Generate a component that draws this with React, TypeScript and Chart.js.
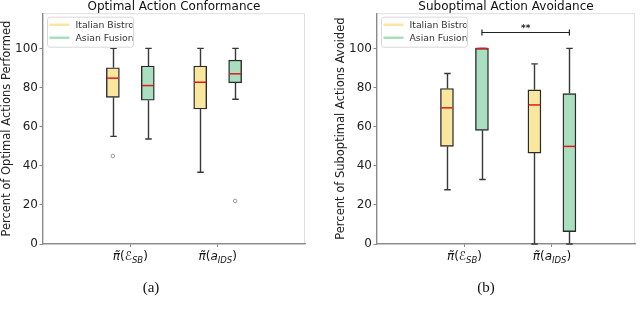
import React, { useEffect, useRef } from 'react';
import { Chart, registerables } from 'chart.js';

Chart.register(...registerables);

const FONT = "'DejaVu Sans', sans-serif";

// ---- shared data ----
const seriesNames = ['Italian Bistro', 'Asian Fusion'];
const seriesColors = ['#F9E79F', '#A9DFBF'];
const categoryPositions = [1, 2];
const tickSymbols = ['ℰ', 'a'];
const tickSubscripts = ['SB', 'IDS'];
const yTickValues = [0, 20, 40, 60, 80, 100];

// ---- panel (a): Optimal Action Conformance ----
const aItalianLow = [55, 36.7];
const aItalianQ1 = [75, 69];
const aItalianMedian = [84.8, 82.7];
const aItalianQ3 = [90.1, 91];
const aItalianHigh = [100, 100];
const aItalianOutliers = [[45], []];
const aAsianLow = [53.7, 74];
const aAsianQ1 = [73.5, 82.4];
const aAsianMedian = [81, 87];
const aAsianQ3 = [91, 94];
const aAsianHigh = [100, 100];
const aAsianOutliers = [[], [22]];

// ---- panel (b): Suboptimal Action Avoidance ----
const bItalianLow = [27.7, 0];
const bItalianQ1 = [49.9, 46.5];
const bItalianMedian = [69.6, 71.1];
const bItalianQ3 = [79.5, 78.8];
const bItalianHigh = [87.2, 92.1];
const bItalianOutliers = [[], []];
const bAsianLow = [33, 0];
const bAsianQ1 = [58.1, 6.3];
const bAsianMedian = [100, 49.9];
const bAsianQ3 = [100, 76.9];
const bAsianHigh = [100, 100];
const bAsianOutliers = [[], []];
const bSignificanceLevel = [108.4];
const bSignificanceLabel = ['**'];

const seriesOffset = [-0.2, 0.2];
const BOX_W = 13;

type Stats = { low: number[]; q1: number[]; med: number[]; q3: number[]; high: number[]; out: number[][] };

type PanelProps = {
  left: number;
  title: string;
  yLabel: string;
  series: Stats[];
  xMax: number;
  padLeft: number;
  padRight: number;
  sig?: { level: number; label: string; from: number; to: number; series: number };
};

function drawTickLabel(ctx: CanvasRenderingContext2D, cx: number, baseline: number, sym: string, sub: string) {
  const parts = [
    { t: 'π\u0303', f: `italic 12px ${FONT}`, dy: 0 },
    { t: '(', f: `12px ${FONT}`, dy: 0 },
    { t: sym, f: `italic 12px ${FONT}`, dy: 0 },
    { t: sub, f: `italic 8.5px ${FONT}`, dy: 2.5 },
    { t: ')', f: `12px ${FONT}`, dy: 0 },
  ];
  let total = 0;
  const widths = parts.map((p) => {
    ctx.font = p.f;
    const w = ctx.measureText(p.t).width;
    total += w;
    return w;
  });
  let x = cx - total / 2;
  ctx.fillStyle = '#111';
  ctx.textAlign = 'left';
  ctx.textBaseline = 'alphabetic';
  parts.forEach((p, i) => {
    ctx.font = p.f;
    ctx.fillText(p.t, x, baseline + p.dy);
    x += widths[i];
  });
}

function Panel({ left, title, yLabel, series, xMax, padLeft, padRight, sig }: PanelProps) {
  const ref = useRef<HTMLCanvasElement>(null);

  useEffect(() => {
    const canvas = ref.current!;
    const datasets: any[] = [];
    series.forEach((s, si) => {
      datasets.push({
        type: 'bar',
        label: seriesNames[si],
        data: categoryPositions.map((c, ci) => ({ x: c + seriesOffset[si], y: [s.q1[ci], s.q3[ci]] })),
        backgroundColor: seriesColors[si],
        borderColor: '#2a2a2a',
        borderWidth: 1.4,
        borderSkipped: false,
        barThickness: BOX_W,
        grouped: false,
      });
    });
    series.forEach((s, si) => {
      const pts: any[] = [];
      s.out.forEach((list, ci) => list.forEach((v) => pts.push({ x: categoryPositions[ci] + seriesOffset[si], y: v })));
      if (pts.length) {
        datasets.push({
          type: 'scatter',
          data: pts,
          pointRadius: 1.8,
          pointBackgroundColor: 'rgba(0,0,0,0)',
          pointBorderColor: '#808080',
          pointBorderWidth: 0.8,
        });
      }
    });

    const extras = {
      id: 'extras',
      beforeDraw(chart: any) {
        const { ctx, chartArea: a } = chart;
        ctx.save();
        ctx.strokeStyle = '#dedede';
        ctx.lineWidth = 1;
        ctx.strokeRect(a.left, a.top + 0.5, a.right - a.left - 0.5, a.bottom - a.top);
        ctx.restore();
      },
      afterDatasetsDraw(chart: any) {
        const { ctx, chartArea: a } = chart;
        const xs = chart.scales.x;
        const ys = chart.scales.y;
        ctx.save();
        // whiskers and caps
        series.forEach((s, si) => {
          categoryPositions.forEach((c, ci) => {
            const x = Math.round(xs.getPixelForValue(c + seriesOffset[si])) + 0.5;
            const yLow = ys.getPixelForValue(s.low[ci]);
            const yQ1 = ys.getPixelForValue(s.q1[ci]);
            const yQ3 = ys.getPixelForValue(s.q3[ci]);
            const yHigh = ys.getPixelForValue(s.high[ci]);
            ctx.strokeStyle = '#383838';
            ctx.lineWidth = 1.4;
            ctx.beginPath();
            ctx.moveTo(x, yQ3);
            ctx.lineTo(x, yHigh);
            ctx.moveTo(x, yQ1);
            ctx.lineTo(x, yLow);
            ctx.moveTo(x - BOX_W / 4, yHigh);
            ctx.lineTo(x + BOX_W / 4, yHigh);
            ctx.moveTo(x - BOX_W / 4, yLow);
            ctx.lineTo(x + BOX_W / 4, yLow);
            ctx.stroke();
          });
        });
        // medians
        series.forEach((s, si) => {
          categoryPositions.forEach((c, ci) => {
            const x = xs.getPixelForValue(c + seriesOffset[si]);
            const y = ys.getPixelForValue(s.med[ci]);
            ctx.strokeStyle = '#e3191c';
            ctx.lineWidth = 1.5;
            ctx.beginPath();
            ctx.moveTo(x - BOX_W / 2 + 0.7, y);
            ctx.lineTo(x + BOX_W / 2 - 0.7, y);
            ctx.stroke();
          });
        });
        // significance bracket
        if (sig) {
          const x1 = xs.getPixelForValue(categoryPositions[sig.from] + seriesOffset[sig.series]);
          const x2 = xs.getPixelForValue(categoryPositions[sig.to] + seriesOffset[sig.series]);
          const y = Math.round(ys.getPixelForValue(sig.level)) + 0.5;
          ctx.strokeStyle = '#222';
          ctx.lineWidth = 1.2;
          ctx.beginPath();
          ctx.moveTo(x1, y);
          ctx.lineTo(x2, y);
          ctx.moveTo(x1, y - 3);
          ctx.lineTo(x1, y + 3);
          ctx.moveTo(x2, y - 3);
          ctx.lineTo(x2, y + 3);
          ctx.stroke();
          ctx.fillStyle = '#222';
          ctx.font = `bold 9px ${FONT}`;
          ctx.textAlign = 'center';
          ctx.textBaseline = 'alphabetic';
          ctx.fillText(sig.label, (x1 + x2) / 2, y - 1.5);
        }
        // legend
        const fx = a.left + 4.5;
        const fy = a.top + 4;
        const fw = 86;
        const fh = 30;
        ctx.beginPath();
        ctx.roundRect(fx, fy, fw, fh, 2.5);
        ctx.fillStyle = 'rgba(255,255,255,0.85)';
        ctx.fill();
        ctx.strokeStyle = '#d8d8d8';
        ctx.lineWidth = 1;
        ctx.stroke();
        ctx.save();
        ctx.beginPath();
        ctx.rect(fx, fy, fw - 1, fh);
        ctx.clip();
        seriesNames.forEach((name, i) => {
          const ly = fy + 7.5 + i * 13;
          ctx.strokeStyle = seriesColors[i];
          ctx.lineWidth = 2.5;
          ctx.beginPath();
          ctx.moveTo(fx + 2, ly);
          ctx.lineTo(fx + 22, ly);
          ctx.stroke();
          ctx.fillStyle = '#333';
          ctx.font = `9.3px ${FONT}`;
          ctx.textAlign = 'left';
          ctx.textBaseline = 'middle';
          ctx.fillText(name, fx + 28, ly + 0.5);
        });
        ctx.restore();
        // x tick labels
        categoryPositions.forEach((c, ci) => {
          drawTickLabel(ctx, xs.getPixelForValue(c), a.bottom + 16, tickSymbols[ci], tickSubscripts[ci]);
        });
        ctx.restore();
      },
    };

    const chart = new Chart(canvas, {
      type: 'bar',
      data: { datasets },
      plugins: [extras],
      options: {
        responsive: false,
        animation: false,
        devicePixelRatio: 1,
        layout: { padding: { left: padLeft, right: padRight, top: 0, bottom: 0 } },
        plugins: {
          legend: { display: false },
          tooltip: { enabled: false },
          title: {
            display: true,
            text: title,
            fullSize: false,
            color: '#111',
            font: { family: FONT, size: 12, weight: 'normal', lineHeight: 1.1 },
            padding: { top: 0, bottom: 0 },
          },
        },
        scales: {
          x: {
            type: 'linear',
            offset: false,
            min: 0,
            max: xMax,
            afterBuildTicks: (s: any) => {
              s.ticks = categoryPositions.map((v) => ({ value: v }));
            },
            afterFit: (s: any) => {
              s.height = 72;
            },
            ticks: { callback: () => '', font: { family: FONT, size: 11 } },
            grid: { offset: false, drawOnChartArea: false, tickLength: 3, color: '#888', tickWidth: 1 },
            border: { color: '#8a8a8a', width: 1.3 },
          },
          y: {
            type: 'linear',
            min: 0,
            max: 118,
            afterBuildTicks: (s: any) => {
              s.ticks = yTickValues.map((v) => ({ value: v }));
            },
            afterFit: (s: any) => {
              s.width = 43;
            },
            ticks: { color: '#222', padding: 1.5, font: { family: FONT, size: 12 } },
            grid: { drawOnChartArea: false, tickLength: 3.5, color: '#888', tickWidth: 1 },
            border: { color: '#8a8a8a', width: 1.3 },
            title: {
              display: true,
              text: yLabel,
              color: '#222',
              font: { family: FONT, size: 11.5 },
              padding: { top: 0, bottom: 0 },
            },
          },
        },
      } as any,
    });
    return () => chart.destroy();
  }, []);

  return (
    <canvas
      ref={ref}
      width={320}
      height={316}
      style={{ position: 'absolute', left, top: 0, width: 320, height: 316 }}
    />
  );
}

export default function App() {
  const aSeries: Stats[] = [
    { low: aItalianLow, q1: aItalianQ1, med: aItalianMedian, q3: aItalianQ3, high: aItalianHigh, out: aItalianOutliers },
    { low: aAsianLow, q1: aAsianQ1, med: aAsianMedian, q3: aAsianQ3, high: aAsianHigh, out: aAsianOutliers },
  ];
  const bSeries: Stats[] = [
    { low: bItalianLow, q1: bItalianQ1, med: bItalianMedian, q3: bItalianQ3, high: bItalianHigh, out: bItalianOutliers },
    { low: bAsianLow, q1: bAsianQ1, med: bAsianMedian, q3: bAsianQ3, high: bAsianHigh, out: bAsianOutliers },
  ];
  const captionStyle: React.CSSProperties = {
    position: 'absolute',
    top: 277,
    width: 40,
    textAlign: 'center',
    fontFamily: "'Liberation Serif', 'Times New Roman', serif",
    fontSize: 15,
    lineHeight: '20px',
    color: '#111',
  };
  return (
    <div style={{ position: 'fixed', left: 0, top: 0, width: 640, height: 316, background: '#fff', overflow: 'hidden' }}>
      <Panel
        left={0}
        title="Optimal Action Conformance"
        yLabel="Percent of Optimal Actions Performed"
        series={aSeries}
        xMax={3}
        padLeft={0}
        padRight={15}
      />
      <Panel
        left={320}
        title="Suboptimal Action Avoidance"
        yLabel="Percent of Suboptimal Actions Avoided"
        series={bSeries}
        xMax={2.95}
        padLeft={14}
        padRight={5}
        sig={{ level: bSignificanceLevel[0], label: bSignificanceLabel[0], from: 0, to: 1, series: 1 }}
      />
      <div style={{ ...captionStyle, left: 151 - 20 }}>(a)</div>
      <div style={{ ...captionStyle, left: 486 - 20 }}>(b)</div>
    </div>
  );
}
